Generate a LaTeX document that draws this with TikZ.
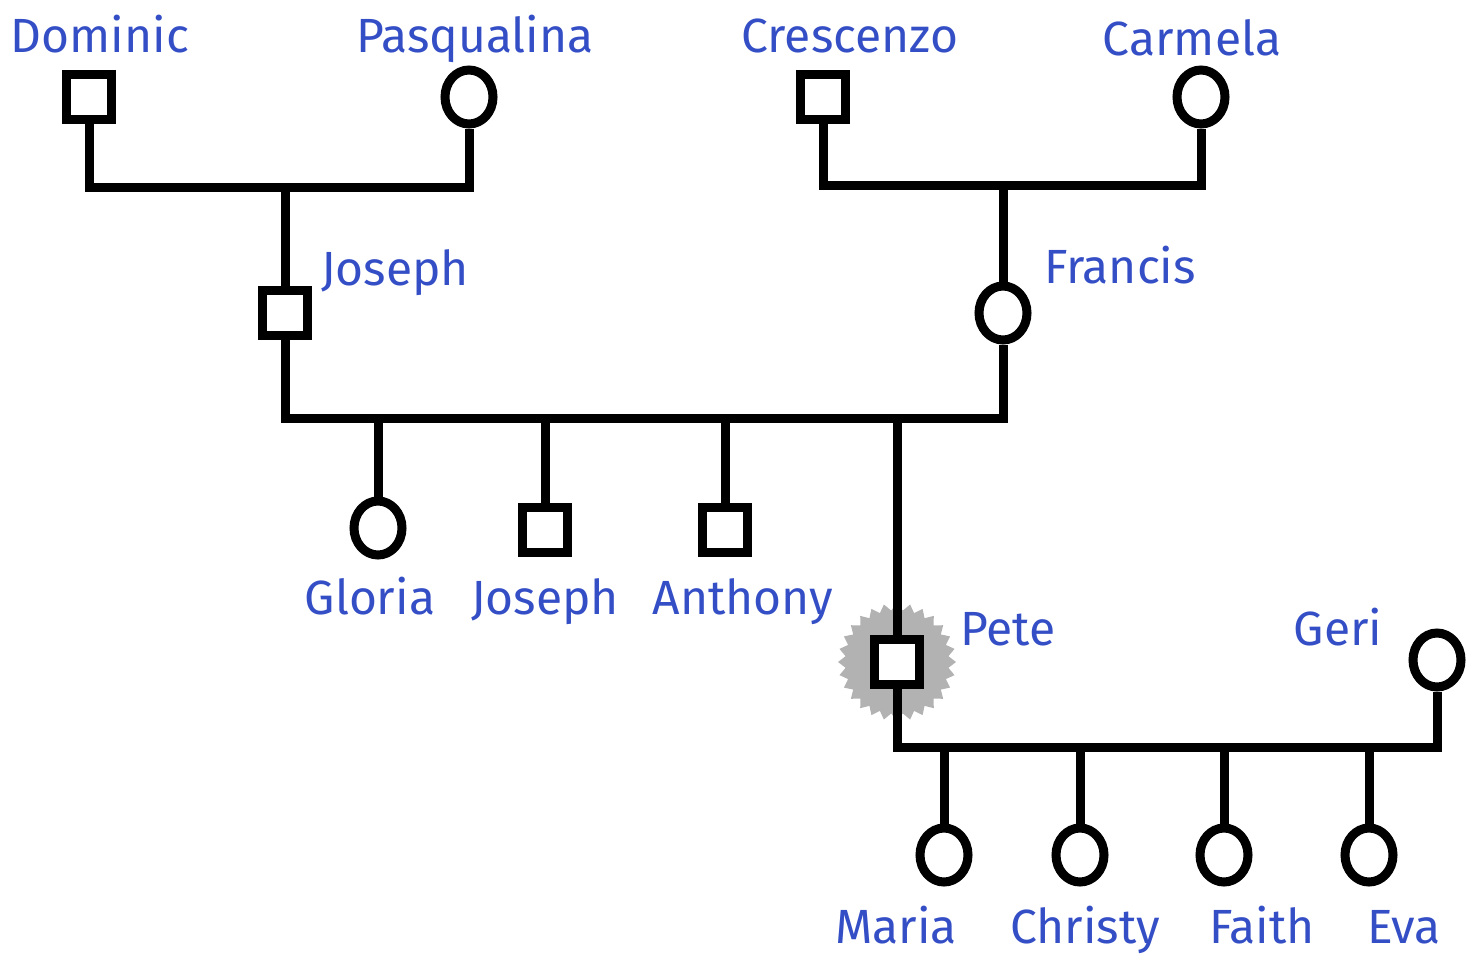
\documentclass[tikz,border=0pt]{standalone}
\usepackage{fontspec}
\setmainfont{Fira Sans}
\usetikzlibrary{shapes.geometric,backgrounds}
\definecolor{nameblue}{RGB}{52,78,198}
\definecolor{burst}{RGB}{178,178,178}
\tikzset{
  male/.style={draw=black,line width=9.5pt,fill=white,rectangle,minimum size=45pt,inner sep=0pt},
  female/.style={draw=black,line width=9pt,fill=white,ellipse,minimum width=48pt,minimum height=54pt,inner sep=0pt},
  link/.style={line width=9pt,line join=miter},
  lbl/.style={text=nameblue,font=\fontsize{48}{54}\selectfont,inner sep=0pt,anchor=base},
}
\begin{document}
\begin{tikzpicture}[x=1pt,y=-1pt]
\useasboundingbox (0,0) rectangle (1468,954);
% coordinates
\coordinate (c1) at (285,187);
\coordinate (c2) at (1003,185);
\coordinate (c3) at (897,418);
\coordinate (c4) at (1080,747);
% persons
\node[male] (dom) at (89,97) {};
\node[female] (pas) at (469,97) {};
\node[male] (cre) at (823,97) {};
\node[female] (car) at (1201,97) {};
\node[male] (jos) at (285,313) {};
\node[female] (fra) at (1003,313) {};
\node[female] (glo) at (378,528) {};
\node[male] (jos2) at (545,530) {};
\node[male] (ant) at (725,530) {};
\node[male] (pet) at (897,662) {};
\node[female] (ger) at (1437,660) {};
\node[female] (mar) at (944,855) {};
\node[female] (chr) at (1080,855) {};
\node[female] (fai) at (1224,855) {};
\node[female] (eva) at (1369,855) {};
\begin{pgfonlayer}{background}
\node[star,star points=28,star point ratio=1.14,fill=burst,minimum size=118pt,inner sep=0pt] (burst) at (pet) {};
\draw[link] (dom.south) |- (c1) -| (pas.south);
\draw[link] (c1) -- (jos.north);
\draw[link] (cre.south) |- (c2) -| (car.south);
\draw[link] (c2) -- (fra.north);
\draw[link] (jos.south) |- (c3) -| (fra.south);
\draw[link] (glo.north) -- (glo.north |- c3);
\draw[link] (jos2.north) -- (jos2.north |- c3);
\draw[link] (ant.north) -- (ant.north |- c3);
\draw[link] (pet.north) -- (c3);
\draw[link] (pet.south) |- (c4) -| (ger.south);
\draw[link] (mar.north) -- (mar.north |- c4);
\draw[link] (chr.north) -- (chr.north |- c4);
\draw[link] (fai.north) -- (fai.north |- c4);
\draw[link] (eva.north) -- (eva.north |- c4);
\end{pgfonlayer}
% labels
\node[lbl] (ldom) at (100,52) {Dominic};
\node[lbl] (lpas) at (475,52) {Pasqualina};
\node[lbl] (lcre) at (850,52) {Crescenzo};
\node[lbl] (lcar) at (1192,55) {Carmela};
\node[lbl] (ljos) at (395,285) {Joseph};
\node[lbl] (lfra) at (1120,283) {Francis};
\node[lbl] (lglo) at (370,614) {Gloria};
\node[lbl] (ljos2) at (545,614) {Joseph};
\node[lbl] (lant) at (743,614) {Anthony};
\node[lbl] (lpet) at (1008,645) {Pete};
\node[lbl] (lger) at (1338,645) {Geri};
\node[lbl] (lmar) at (896,943) {Maria};
\node[lbl] (lchr) at (1085,943) {Christy};
\node[lbl] (lfai) at (1262,943) {Faith};
\node[lbl] (leva) at (1404,943) {Eva};
\end{tikzpicture}
\end{document}
